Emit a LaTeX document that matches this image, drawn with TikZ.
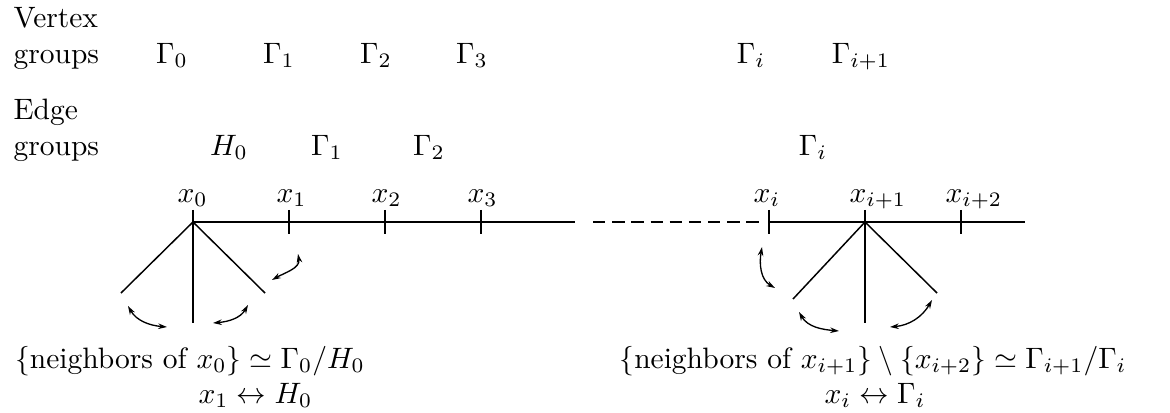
\documentclass[tikz,border=0pt]{standalone}
\usepackage{amsmath,amssymb}
\usepackage{tikz}
\usetikzlibrary{arrows.meta,positioning}

\begin{document}
\begin{tikzpicture}[
  x=0.339pt,
  y=0.339pt,
  >={Stealth[length=3pt,width=1.9pt]},
  treeline/.style={black,line width=1pt},
  fanline/.style={black,line width=0.5pt},
  turnarrow/.style={<->,black,line width=0.45pt},
  rowtitle/.style={anchor=base west,align=left,inner sep=0pt},
  grouplabel/.style={anchor=base,inner sep=0pt},
  vertexlabel/.style={anchor=base west,inner sep=0pt}
]
\path[use as bounding box] (0,0) rectangle (1170,412);

% row titles and groups
\node[rowtitle] (vtitle) at (13,349) {Vertex\\groups};
\node[rowtitle] (etitle) at (13,257) {Edge\\groups};

\node[grouplabel] (vg0) at (172,349) {$\Gamma_0$};
\node[grouplabel] (vg1) at (279,349) {$\Gamma_1$};
\node[grouplabel] (vg2) at (376,349) {$\Gamma_2$};
\node[grouplabel] (vg3) at (472,349) {$\Gamma_3$};
\node[grouplabel] (vgi) at (751,349) {$\Gamma_i$};
\node[grouplabel] (vgii) at (861,349) {$\Gamma_{i+1}$};

\node[grouplabel] (eg0) at (229,257) {$H_0$};
\node[grouplabel] (eg1) at (327,257) {$\Gamma_1$};
\node[grouplabel] (eg2) at (429,257) {$\Gamma_2$};
\node[grouplabel] (egi) at (813,257) {$\Gamma_i$};

% the tree
\coordinate (x0) at (193,190);
\coordinate (x1) at (289,190);
\coordinate (x2) at (385,190);
\coordinate (x3) at (481,190);
\coordinate (cutA) at (575,190);
\coordinate (dashA) at (593,190);
\coordinate (dashB) at (762,190);
\coordinate (xi) at (769,190);
\coordinate (xii) at (865,190);
\coordinate (xiii) at (961,190);
\coordinate (cutB) at (1025,190);

\draw[treeline] (x0) -- (cutA);
\draw[treeline,dash pattern=on 4.2pt off 2.3pt] (dashA) -- (dashB);
\draw[treeline] (xi) -- (cutB);

\foreach \p in {x1,x2,x3,xi,xiii}
  \draw[treeline] ([yshift=4.1pt]\p) -- ([yshift=-4.1pt]\p);
\foreach \p in {x0,xii}
  \draw[treeline] ([yshift=4.1pt]\p) -- (\p);

\node[vertexlabel] (lx0) at (177,210) {$x_0$};
\node[vertexlabel] (lx1) at (276,210) {$x_1$};
\node[vertexlabel] (lx2) at (371,210) {$x_2$};
\node[vertexlabel] (lx3) at (467,210) {$x_3$};
\node[vertexlabel] (lxi) at (753,210) {$x_i$};
\node[vertexlabel] (lxii) at (849,210) {$x_{i+1}$};
\node[vertexlabel] (lxiii) at (945,210) {$x_{i+2}$};

% neighbours
\coordinate (fl0) at (121,119);
\coordinate (fm0) at (193,89);
\coordinate (fr0) at (265,119);
\coordinate (fl1) at (793,113);
\coordinate (fm1) at (865,89);
\coordinate (fr1) at (937,119);
\foreach \e in {fl0,fm0,fr0}
  \draw[fanline] (x0) -- (\e);
\foreach \e in {fl1,fm1,fr1}
  \draw[fanline] (xii) -- (\e);

\coordinate (a1s) at (298,158);
\coordinate (a1e) at (272,132);
\coordinate (a2s) at (128,106);
\coordinate (a2e) at (167,85);
\coordinate (a3s) at (213,89);
\coordinate (a3e) at (248,107);
\coordinate (b1s) at (762,165);
\coordinate (b1e) at (775,124);
\coordinate (b2s) at (799,100);
\coordinate (b2e) at (839,81);
\coordinate (b3s) at (890,85);
\coordinate (b3e) at (932,112);

\draw[turnarrow] (a1s) to[out=-80,in=30] (a1e);
\draw[turnarrow] (a2s) to[out=-60,in=175] (a2e);
\draw[turnarrow] (a3s) to[out=5,in=240] (a3e);
\draw[turnarrow] (b1s) to[out=-100,in=150] (b1e);
\draw[turnarrow] (b2s) to[out=-60,in=175] (b2e);
\draw[turnarrow] (b3s) to[out=5,in=240] (b3e);

% quotients
\node[grouplabel] (nbleft) at (190,44)
  {$\{\text{neighbors of }x_0\}\simeq\Gamma_0/H_0$};
\node[vertexlabel] (corleft) at (198,9) {$x_1\leftrightarrow H_0$};
\node[grouplabel] (nbright) at (873,44)
  {$\{\text{neighbors of }x_{i+1}\}\setminus\{x_{i+2}\}\simeq\Gamma_{i+1}/\Gamma_i$};
\node[grouplabel] (corright) at (875,9) {$x_i\leftrightarrow\Gamma_i$};
\end{tikzpicture}
\end{document}
